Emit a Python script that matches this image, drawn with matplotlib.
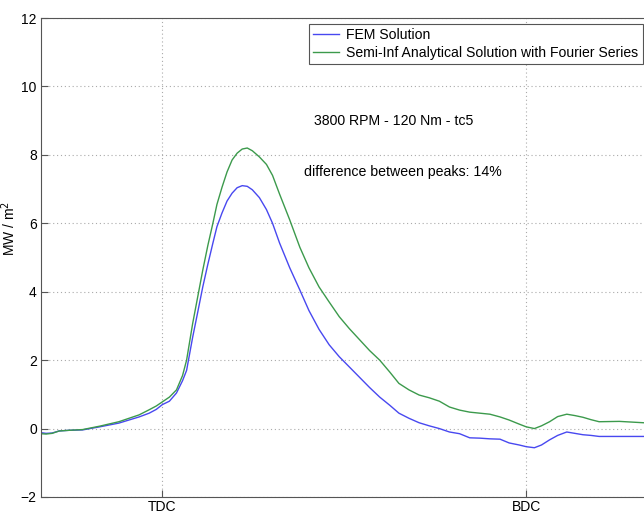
import matplotlib
matplotlib.use("Agg")
import matplotlib.pyplot as plt

plt.rcParams['font.family'] = ['Liberation Sans', 'DejaVu Sans']

# crank angle (deg), TDC = 360, BDC = 540
crank_angle = [300, 302.5, 305.5, 309, 314, 320.5, 329, 338.5, 348.5, 353.5,
               357, 360, 363.5, 367, 370, 372, 375, 377.5, 380, 382.5,
               385, 387, 389.5, 392, 394.5, 397, 399.5, 402, 404.5, 408,
               411.5, 414.5, 418, 423, 428, 432.5, 437.5, 442.5, 447.5, 452.5,
               457.5, 462.5, 467.5, 472.5, 477, 482, 487, 492, 497, 502,
               507, 512, 517, 522, 527, 531.5, 536.5, 540, 544, 547.5,
               551.5, 555.5, 560, 564, 568, 572, 576, 586, 598]

# heat flux, MW / m^2
fem = [-0.12, -0.14, -0.13, -0.07, -0.05, -0.04, 0.05, 0.16, 0.34, 0.45,
       0.56, 0.70, 0.80, 1.04, 1.4, 1.7, 2.67, 3.4, 4.14, 4.8,
       5.42, 5.9, 6.3, 6.65, 6.88, 7.04, 7.1, 7.08, 6.98, 6.75,
       6.4, 6.0, 5.42, 4.7, 4.05, 3.45, 2.9, 2.45, 2.1, 1.8,
       1.5, 1.2, 0.92, 0.68, 0.45, 0.3, 0.17, 0.08, 0.0, -0.1,
       -0.15, -0.27, -0.28, -0.3, -0.31, -0.42, -0.48, -0.53, -0.56, -0.48,
       -0.33, -0.2, -0.1, -0.14, -0.18, -0.2, -0.23, -0.23, -0.23]

semi_inf = [-0.15, -0.16, -0.14, -0.07, -0.05, -0.03, 0.07, 0.2, 0.4, 0.55,
            0.66, 0.78, 0.92, 1.13, 1.55, 2.0, 3.07, 3.85, 4.63, 5.35,
            6.0, 6.55, 7.05, 7.5, 7.85, 8.05, 8.17, 8.2, 8.12, 7.94,
            7.72, 7.4, 6.85, 6.1, 5.3, 4.7, 4.14, 3.7, 3.27, 2.92,
            2.6, 2.28, 2.0, 1.65, 1.32, 1.13, 0.98, 0.9, 0.8, 0.63,
            0.54, 0.48, 0.45, 0.42, 0.34, 0.25, 0.13, 0.05, 0.0, 0.08,
            0.2, 0.35, 0.42, 0.38, 0.33, 0.26, 0.2, 0.21, 0.17]

x_ticks = [360, 540]
x_tick_labels = ["TDC", "BDC"]
y_ticks = [-2, 0, 2, 4, 6, 8, 10, 12]

fig = plt.figure(figsize=(6.44, 5.14), dpi=100)
ax = fig.add_axes([41 / 644, 17 / 514, 603 / 644, 479 / 514])

ax.plot(crank_angle, fem, color="#4848f0", lw=1.0, label="FEM Solution")
ax.plot(crank_angle, semi_inf, color="#3c9a4c", lw=1.0,
        label="Semi-Inf Analytical Solution with Fourier Series")

ax.set_xlim(300, 598.2)
ax.set_ylim(-2, 12)
ax.set_xticks(x_ticks)
ax.set_xticklabels(x_tick_labels)
ax.set_yticks(y_ticks)
ax.tick_params(direction="in", length=5, color="#555555", labelsize=10,
               pad=3)
ax.tick_params(axis="x", pad=2)
ax.grid(True, linestyle=(0, (1, 2.5)), color="#aaaaaa", lw=0.8)
for s in ax.spines.values():
    s.set_color("#555555")
ax.spines["right"].set_visible(False)

ax.set_ylabel("MW / m$^2$", fontsize=10)
ax.yaxis.set_label_coords(-0.038, 0.56)

ax.text(435.2, 9.0, "3800 RPM - 120 Nm - tc5", fontsize=10.2, va="center")
ax.text(430.2, 7.5, "difference between peaks: 14%", fontsize=10.2,
        va="center")

leg = ax.legend(loc="upper right", bbox_to_anchor=(0.998, 0.9875),
                borderaxespad=0, fontsize=10.1, fancybox=False,
                framealpha=1, edgecolor="#555555", handlelength=1.9,
                handletextpad=0.5, labelspacing=0.25, borderpad=0.3)
leg.get_frame().set_linewidth(0.8)

fig.savefig("out.png", dpi=100)
